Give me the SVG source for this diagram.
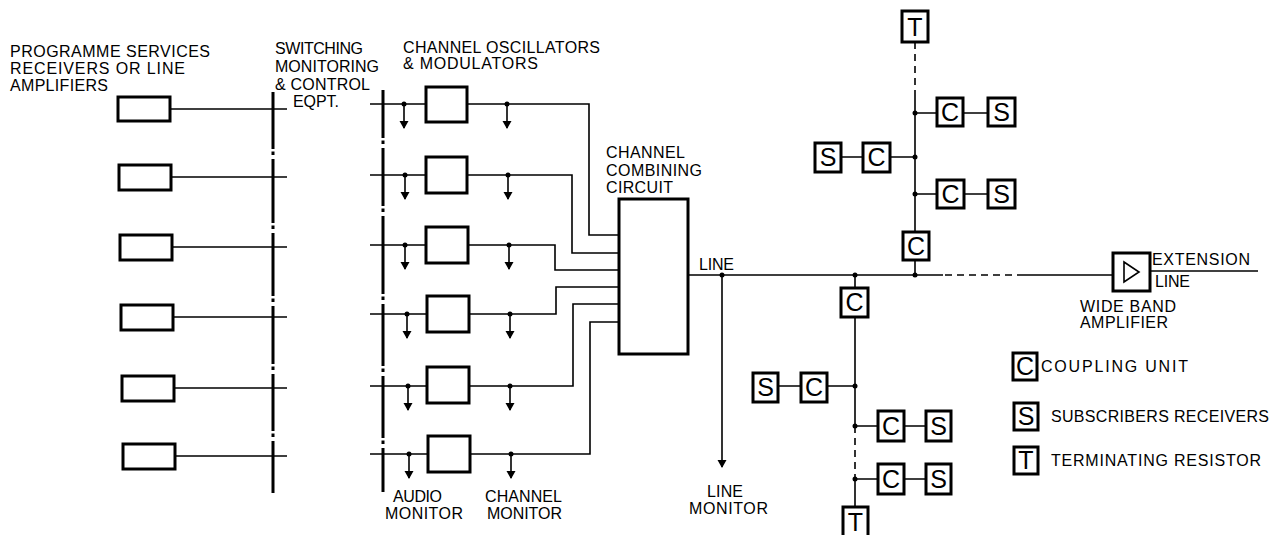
<svg xmlns="http://www.w3.org/2000/svg" width="1275" height="535" viewBox="0 0 1275 535">
<defs>
<style>
.bg{fill:#fff}
.w{fill:none;stroke:#000;stroke-width:1.6}
.dd{fill:none;stroke:#000;stroke-width:1.6;stroke-dasharray:7 5}
.rail{fill:none;stroke:#000;stroke-width:3}
.box{fill:#fff;stroke:#000;stroke-width:3}
.t{font-family:"Liberation Sans",Arial,sans-serif;font-size:16px;fill:#000}
.bl{font-family:"Liberation Sans",Arial,sans-serif;font-size:25px;fill:#000;text-anchor:middle}
.dot{fill:#000}
</style>
<marker id="ah" markerWidth="8" markerHeight="10" refX="7" refY="5" orient="auto" markerUnits="userSpaceOnUse"><path d="M0,0.5 L8,5 L0,9.5 z" fill="#000"/></marker>
</defs>
<rect class="bg" x="0" y="0" width="1275" height="535"/>

<g id="labels">
<text class="t" x="10" y="57" textLength="200" lengthAdjust="spacing">PROGRAMME SERVICES</text>
<text class="t" x="10" y="74" textLength="175" lengthAdjust="spacing">RECEIVERS OR LINE</text>
<text class="t" x="10" y="91" textLength="98" lengthAdjust="spacing">AMPLIFIERS</text>
<text class="t" x="275" y="54" textLength="88" lengthAdjust="spacing">SWITCHING</text>
<text class="t" x="275" y="72" textLength="104" lengthAdjust="spacing">MONITORING</text>
<text class="t" x="275" y="90" textLength="95" lengthAdjust="spacing">&amp; CONTROL</text>
<text class="t" x="293" y="107" textLength="46" lengthAdjust="spacing">EQPT.</text>
<text class="t" x="403" y="53" textLength="197" lengthAdjust="spacing">CHANNEL OSCILLATORS</text>
<text class="t" x="403" y="69" textLength="135" lengthAdjust="spacing">&amp; MODULATORS</text>
<text class="t" x="606" y="158" textLength="79" lengthAdjust="spacing">CHANNEL</text>
<text class="t" x="606" y="176" textLength="96" lengthAdjust="spacing">COMBINING</text>
<text class="t" x="606" y="193" textLength="67" lengthAdjust="spacing">CIRCUIT</text>
<text class="t" x="699" y="270" textLength="35" lengthAdjust="spacing">LINE</text>
<text class="t" x="393" y="502" textLength="49" lengthAdjust="spacing">AUDIO</text>
<text class="t" x="385" y="519" textLength="78" lengthAdjust="spacing">MONITOR</text>
<text class="t" x="485" y="502" textLength="77" lengthAdjust="spacing">CHANNEL</text>
<text class="t" x="487" y="519" textLength="75" lengthAdjust="spacing">MONITOR</text>
<text class="t" x="707" y="497" textLength="36" lengthAdjust="spacing">LINE</text>
<text class="t" x="689" y="514" textLength="79" lengthAdjust="spacing">MONITOR</text>
<text class="t" x="1152" y="265" textLength="98" lengthAdjust="spacing">EXTENSION</text>
<text class="t" x="1155" y="287" textLength="35" lengthAdjust="spacing">LINE</text>
<text class="t" x="1080" y="312" textLength="96" lengthAdjust="spacing">WIDE BAND</text>
<text class="t" x="1080" y="328" textLength="88" lengthAdjust="spacing">AMPLIFIER</text>
</g>

<g id="connectors">
<path class="rail" d="M273,92 V149 M273,151.5 V155 M273,159 V223 M273,225.5 V229 M273,233 V296 M273,298.5 V302 M273,306 V364 M273,366.5 V370 M273,374 V431 M273,433.5 V437 M273,441 V493"/>
<path class="rail" d="M383,90 V138 M383,140.5 V144 M383,148 V206 M383,208.5 V212 M383,216 V294 M383,296.5 V300 M383,304 V366 M383,368.5 V372 M383,376 V438 M383,440.5 V444 M383,448 V492"/>
<path class="w" d="M171,109 H287 M172,177 H287 M173,247 H287 M173,317 H287 M174,388 H287 M175,456 H287"/>
<path class="w" d="M370,104 H426 M370,175 H426 M370,245 H426 M370,314 H427 M370,386 H427 M370,454 H428"/>
<path class="w" marker-end="url(#ah)" d="M404,104 V128"/>
<path class="w" marker-end="url(#ah)" d="M405,175 V199"/>
<path class="w" marker-end="url(#ah)" d="M405,245 V269"/>
<path class="w" marker-end="url(#ah)" d="M407,314 V338"/>
<path class="w" marker-end="url(#ah)" d="M408,386 V410"/>
<path class="w" marker-end="url(#ah)" d="M409,454 V478"/>
<path class="w" d="M468,104 H589 V235 H619"/>
<path class="w" d="M468,175 H572 V253 H619"/>
<path class="w" d="M468,245 H555 V270 H619"/>
<path class="w" d="M469,314 H556 V287 H619"/>
<path class="w" d="M469,386 H573 V304 H619"/>
<path class="w" d="M470,454 H590 V322 H619"/>
<path class="w" marker-end="url(#ah)" d="M507,104 V128"/>
<path class="w" marker-end="url(#ah)" d="M508,175 V199"/>
<path class="w" marker-end="url(#ah)" d="M509,245 V269"/>
<path class="w" marker-end="url(#ah)" d="M510,314 V338"/>
<path class="w" marker-end="url(#ah)" d="M510,386 V410"/>
<path class="w" marker-end="url(#ah)" d="M511,454 V478"/>
<g class="dot">
<circle cx="404" cy="104" r="2.5"/><circle cx="405" cy="175" r="2.5"/><circle cx="405" cy="245" r="2.5"/><circle cx="407" cy="314" r="2.5"/><circle cx="408" cy="386" r="2.5"/><circle cx="409" cy="454" r="2.5"/>
<circle cx="507" cy="104" r="2.5"/><circle cx="508" cy="175" r="2.5"/><circle cx="509" cy="245" r="2.5"/><circle cx="510" cy="314" r="2.5"/><circle cx="510" cy="386" r="2.5"/><circle cx="511" cy="454" r="2.5"/>
<circle cx="722" cy="275" r="2.5"/><circle cx="855" cy="275" r="2.5"/><circle cx="915" cy="275" r="2.5"/>
<circle cx="915" cy="113" r="2.5"/><circle cx="915" cy="157" r="2.5"/><circle cx="915" cy="194" r="2.5"/>
<circle cx="855" cy="386" r="2.5"/><circle cx="855" cy="426" r="2.5"/><circle cx="855" cy="479" r="2.5"/>
</g>
<path class="w" d="M688,275 H943 M1018,275 H1113"/>
<path class="dd" d="M945,275 H1018"/>
<path class="w" d="M1150,271 H1258"/>
<path class="w" marker-end="url(#ah)" d="M722,275 V467"/>
<path class="dd" d="M915,42 V97"/>
<path class="w" d="M915,97 V232 M915,260 V275"/>
<path class="w" d="M915,113 H937 M963,113 H988 M915,194 H937 M963,194 H988 M841,157 H863 M890,157 H915"/>
<path class="w" d="M855,275 V288 M855,317 V426 M855,479 V507"/>
<path class="dd" d="M855,426 V479"/>
<path class="w" d="M779,386 H801 M827,386 H855 M855,426 H878 M904,426 H926 M855,479 H878 M904,479 H926"/>
</g>

<g id="source-1"><rect class="box" x="118" y="97" width="52" height="24"/></g>
<g id="source-2"><rect class="box" x="119" y="165" width="52" height="25"/></g>
<g id="source-3"><rect class="box" x="120" y="235" width="52" height="25"/></g>
<g id="source-4"><rect class="box" x="121" y="305" width="52" height="25"/></g>
<g id="source-5"><rect class="box" x="122" y="376" width="52" height="25"/></g>
<g id="source-6"><rect class="box" x="123" y="444" width="52" height="25"/></g>

<g id="osc-1"><rect class="box" x="426" y="87" width="41" height="35"/></g>
<g id="osc-2"><rect class="box" x="426" y="157" width="41" height="36"/></g>
<g id="osc-3"><rect class="box" x="426" y="227" width="42" height="36"/></g>
<g id="osc-4"><rect class="box" x="427" y="296" width="42" height="36"/></g>
<g id="osc-5"><rect class="box" x="427" y="367" width="42" height="36"/></g>
<g id="osc-6"><rect class="box" x="428" y="436" width="42" height="36"/></g>

<g id="combiner"><rect class="box" x="619" y="199" width="69" height="155"/></g>

<g id="amplifier">
<rect class="box" x="1113" y="253" width="37" height="38"/>
<path d="M1124,262 L1139,272 L1124,282 Z" fill="none" stroke="#000" stroke-width="1.6"/>
</g>

<g id="up-T"><rect class="box" x="902" y="11" width="26" height="31"/><text class="bl" x="915" y="36">T</text></g>
<g id="up-C1"><rect class="box" x="937" y="98" width="26" height="28"/><text class="bl" x="950" y="121">C</text></g>
<g id="up-S1"><rect class="box" x="988" y="98" width="27" height="28"/><text class="bl" x="1001.5" y="121">S</text></g>
<g id="up-S2"><rect class="box" x="815" y="143" width="26" height="29"/><text class="bl" x="828" y="166">S</text></g>
<g id="up-C2"><rect class="box" x="863" y="143" width="27" height="29"/><text class="bl" x="876.5" y="166">C</text></g>
<g id="up-C3"><rect class="box" x="937" y="180" width="27" height="28"/><text class="bl" x="950.5" y="203">C</text></g>
<g id="up-S3"><rect class="box" x="988" y="180" width="27" height="28"/><text class="bl" x="1001.5" y="203">S</text></g>
<g id="up-C"><rect class="box" x="903" y="232" width="26" height="28"/><text class="bl" x="916" y="255">C</text></g>

<g id="lo-C"><rect class="box" x="841" y="288" width="27" height="29"/><text class="bl" x="854.5" y="311">C</text></g>
<g id="lo-S1"><rect class="box" x="753" y="373" width="25" height="29"/><text class="bl" x="765.5" y="396">S</text></g>
<g id="lo-C1"><rect class="box" x="801" y="373" width="26" height="29"/><text class="bl" x="814" y="396">C</text></g>
<g id="lo-C2"><rect class="box" x="878" y="411" width="26" height="30"/><text class="bl" x="891" y="435">C</text></g>
<g id="lo-S2"><rect class="box" x="926" y="411" width="25" height="30"/><text class="bl" x="938.5" y="435">S</text></g>
<g id="lo-C3"><rect class="box" x="878" y="464" width="26" height="30"/><text class="bl" x="891" y="488">C</text></g>
<g id="lo-S3"><rect class="box" x="926" y="464" width="25" height="30"/><text class="bl" x="938.5" y="488">S</text></g>
<g id="lo-T"><rect class="box" x="843" y="507" width="25" height="30"/><text class="bl" x="855.5" y="531">T</text></g>

<g id="legend-C"><rect class="box" x="1013" y="353" width="24" height="27"/><text class="bl" x="1025" y="375">C</text><text class="t" x="1041" y="372" textLength="147" lengthAdjust="spacing">COUPLING UNIT</text></g>
<g id="legend-S"><rect class="box" x="1014" y="403" width="24" height="27"/><text class="bl" x="1026" y="425">S</text><text class="t" x="1051" y="422" textLength="218" lengthAdjust="spacing">SUBSCRIBERS RECEIVERS</text></g>
<g id="legend-T"><rect class="box" x="1014" y="447" width="24" height="27"/><text class="bl" x="1026" y="469">T</text><text class="t" x="1051" y="466" textLength="210" lengthAdjust="spacing">TERMINATING RESISTOR</text></g>
</svg>
